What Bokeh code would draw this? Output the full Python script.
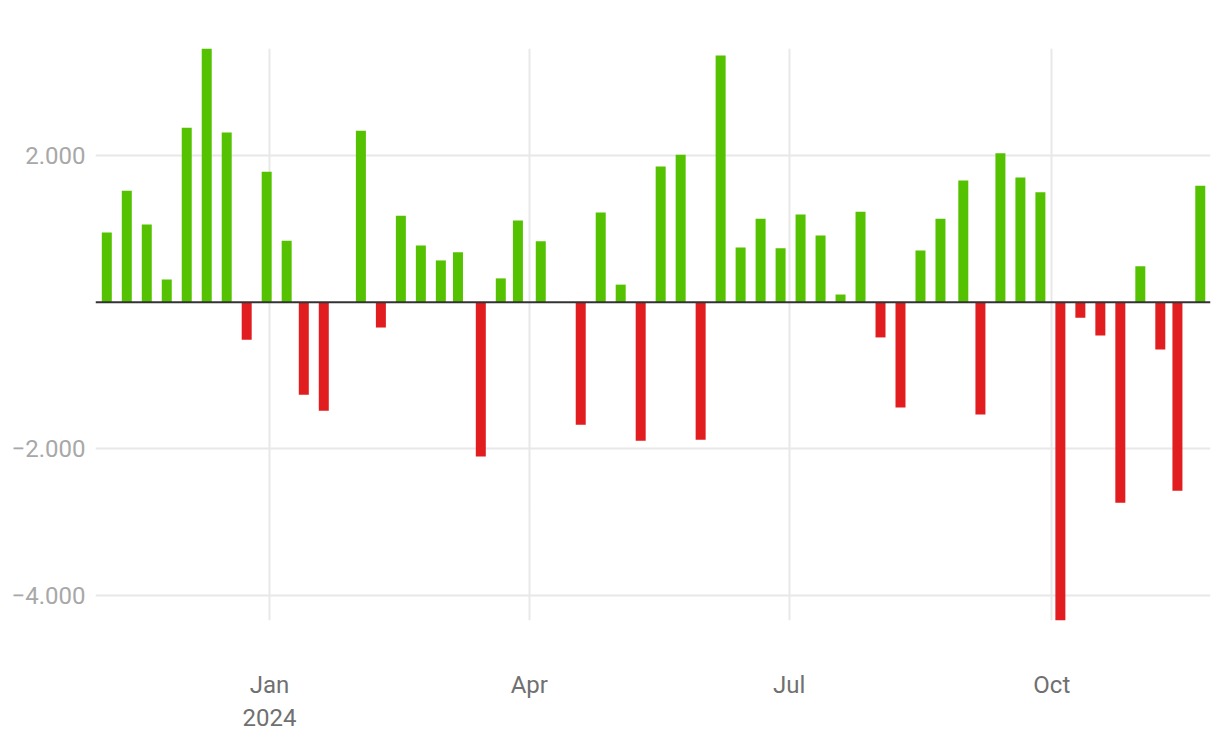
from datetime import datetime
from bokeh.plotting import figure
from bokeh.models import ColumnDataSource, Range1d, FixedTicker, Span
from bokeh.embed import file_html
from bokeh.resources import INLINE

# ---- data ----
dates = [
    "2023-11-05", "2023-11-12", "2023-11-19", "2023-11-26", "2023-12-03",
    "2023-12-10", "2023-12-17", "2023-12-24", "2023-12-31", "2024-01-07",
    "2024-01-13", "2024-01-20", "2024-02-02", "2024-02-09", "2024-02-16",
    "2024-02-23", "2024-03-01", "2024-03-07", "2024-03-15", "2024-03-22",
    "2024-03-28", "2024-04-05", "2024-04-19", "2024-04-26", "2024-05-03",
    "2024-05-10", "2024-05-17", "2024-05-24", "2024-05-31", "2024-06-07",
    "2024-06-14", "2024-06-21", "2024-06-28", "2024-07-05", "2024-07-12",
    "2024-07-19", "2024-07-26", "2024-08-02", "2024-08-09", "2024-08-16",
    "2024-08-23", "2024-08-31", "2024-09-06", "2024-09-13", "2024-09-20",
    "2024-09-27", "2024-10-04", "2024-10-11", "2024-10-18", "2024-10-25",
    "2024-11-01", "2024-11-08", "2024-11-14", "2024-11-22",
]
values = [
    950, 1520, 1060, 310, 2380, 3460, 2315, -510, 1780, 840,
    -1260, -1480, 2340, -345, 1180, 775, 570, 680, -2105, 325,
    1115, 830, -1670, 1225, 240, -1890, 1850, 2010, -1875, 3365,
    745, 1140, 735, 1195, 910, 105, 1235, -480, -1435, 705,
    1140, 1660, -1530, 2030, 1700, 1500, -4340, -210, -455, -2735,
    490, -645, -2570, 1590,
]
x_tick_dates = ["2024-01-01", "2024-04-01", "2024-07-01", "2024-10-01"]
x_tick_labels = ["Jan\n2024", "Apr", "Jul", "Oct"]
y_ticks = [-4000, -2000, 2000]
y_tick_labels = ["\u22124.000", "\u22122.000", "2.000"]

POS_COLOR = "#54c200"
NEG_COLOR = "#e21d1f"

# ---- build ----
xs = [datetime.strptime(d, "%Y-%m-%d") for d in dates]
colors = [POS_COLOR if v >= 0 else NEG_COLOR for v in values]
tops = [max(v, 0) for v in values]
bottoms = [min(v, 0) for v in values]
src = ColumnDataSource(dict(x=xs, top=tops, bottom=bottoms, color=colors))

DAY_MS = 86400000.0


def to_ms(d):
    return (datetime.strptime(d, "%Y-%m-%d") - datetime(1970, 1, 1)).total_seconds() * 1000.0


p = figure(
    width=1220, height=744,
    x_axis_type="datetime",
    output_backend="svg", toolbar_location=None,
    x_range=Range1d(datetime(2023, 11, 1, 1), datetime(2024, 11, 25, 14)),
    y_range=Range1d(min(values), max(values)),
    min_border_left=95, min_border_right=10,
    min_border_top=48, min_border_bottom=124,
)
p.outline_line_color = None
p.background_fill_color = "white"
p.border_fill_color = "white"

p.vbar(x="x", top="top", bottom="bottom", width=3.5 * DAY_MS,
       fill_color="color", line_color=None, source=src)

zero = Span(location=0, dimension="width", line_color="#333333", line_width=2)
p.add_layout(zero)

xt = [to_ms(d) for d in x_tick_dates]
p.xaxis.ticker = FixedTicker(ticks=xt)
p.xaxis.major_label_overrides = {t: lab for t, lab in zip(xt, x_tick_labels)}
p.yaxis.ticker = FixedTicker(ticks=y_ticks)
p.yaxis.major_label_overrides = {t: lab for t, lab in zip(y_ticks, y_tick_labels)}

for ax in (p.xaxis, p.yaxis):
    ax.axis_line_color = None
    ax.major_tick_line_color = None
    ax.minor_tick_line_color = None
    ax.major_tick_out = 0
    ax.major_tick_in = 0
    ax.major_label_text_font = "Roboto"
    ax.major_label_text_font_size = "24px"

p.xaxis.major_label_text_color = "#707070"
p.xaxis.major_label_standoff = 50
p.yaxis.major_label_text_color = "#a8a8a8"
p.yaxis.major_label_standoff = 10

p.xgrid.ticker = FixedTicker(ticks=xt)
p.ygrid.ticker = FixedTicker(ticks=y_ticks)
p.grid.grid_line_color = "#e8e8e8"
p.grid.grid_line_width = 2

open("out.html", "w").write(file_html(p, INLINE))
